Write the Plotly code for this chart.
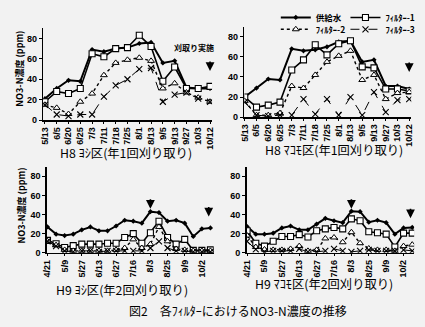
import plotly.graph_objects as go

W, H = 425, 327

# ---------------- data ----------------
h8_labels = ["5/13", "6/5", "6/20", "6/25", "7/3", "7/11", "7/18", "7/25",
             "8/1", "8/13", "9/5", "9/13", "9/27", "10/3", "10/12"]
h9_labels = ["4/21", "5/9", "5/27", "6/13", "6/27", "7/16", "8/3", "8/25", "9/9", "10/2"]

series_names = ["供給水", "ﾌｨﾙﾀｰ-1", "ﾌｨﾙﾀｰ-2", "ﾌｨﾙﾀｰ-3"]

h8_yoshi_supply = [21, 31, 39, 38, 69, 67, 70, 71, 75, 76, 56, 58, 32, 31, 31]
h8_yoshi_f1 = [18, 28, 26, 31, 65, 62, 70, 71, 83, 72, 38, 52, 31, 31, 33]
h8_yoshi_f2 = [15, 12, 6, 18, 26, 44, 56, 59, 61, 58, 31, 36, 27, 22, 18]
h8_yoshi_f3 = [15, 5.5, 4, 5.5, 5.5, 23, 34, 40, 50, 51, 18, 25, 27, 21, 18]

h8_makomo_supply = [20, 29, 38, 37, 68, 66, 67, 70, 75, 76, 55, 57, 31, 31, 28]
h8_makomo_f1 = [20, 10, 12, 15, 47, 57, 72, 62, 73, 76, 50, 49, 28, 28, 26]
h8_makomo_f2 = [16, 2, 2, 4, 31, 29, 42, 55, 61, 66, 37, 42, 18, 24, 25]
h8_makomo_f3 = [15, 2, 1, 2, 2, 18, 3, 18, 2, 20, 2, 25, 5, 17, 18]

h9_yoshi_supply = [27, 19.5, 18, 19.5, 24, 27, 23, 23, 28, 34, 33, 31, 43, 42, 33, 34, 31, 17, 25, 26]
h9_yoshi_f1 = [13, 9.5, 5.5, 7.5, 9, 9, 9, 10, 10, 16, 20, 10, 21, 33, 16, 9, 14, 2.5, 2.5, 3]
h9_yoshi_f2 = [12, 8, 3, 2, 2, 2, 2, 2, 3, 5, 14, 5, 9, 27, 12, 4, 3, 2, 2, 2]
h9_yoshi_f3 = [12, 7, 2, 1, 2, 2, 1, 2, 2, 2, 2, 2, 5, 12, 5, 2, 2, 1, 1, 1]

h9_makomo_supply = [27.5, 19.5, 19.5, 20.5, 26, 28, 24, 24, 30, 36, 33.5, 31.5, 43.5, 43, 32, 34, 31.5, 19.5, 26, 26.5]
h9_makomo_f1 = [23, 10, 7, 12, 17, 17, 19, 16.5, 23, 25, 26.5, 25, 35.5, 33.5, 22, 21, 19.5, 6, 20.5, 20.5]
h9_makomo_f2 = [18, 6, 3.5, 3, 3, 4, 7, 2, 3, 15, 16, 11, 21.5, 10, 4.5, 3, 3, 2, 7, 8.5]
h9_makomo_f3 = [12, 3.5, 1, 2, 2, 2, 4, 1, 1, 2, 4, 2, 1, 2, 3, 2, 2, 2, 3, 2]

y_ticks = [0, 20, 40, 60, 80]

titles = ["H8 ﾖｼ区(年1回刈り取り)", "H8 ﾏｺﾓ区(年1回刈り取り)",
          "H9 ﾖｼ区(年2回刈り取り)", "H9 ﾏｺﾓ区(年2回刈り取り)"]
y_title = "NO3-N濃度 (ppm)"
caption = "図2　各ﾌｨﾙﾀｰにおけるNO3-N濃度の推移"
cut_note = "刈取り実施"

# ---------------- styling ----------------
BG = "#f2f2f2"
JP = "Noto Sans CJK JP"
NUM = "Liberation Sans Narrow, Liberation Sans, Arial"

styles = [
    dict(line=dict(color="black", width=2), marker=dict(symbol="diamond", size=4, color="black")),
    dict(line=dict(color="black", width=1.6),
         marker=dict(symbol="square", size=6, color="white", line=dict(color="black", width=1.1))),
    dict(line=dict(color="black", width=1.4, dash="dot"),
         marker=dict(symbol="triangle-up", size=6, color="white", line=dict(color="black", width=1))),
    dict(line=dict(color="black", width=1, dash="dash"),
         marker=dict(symbol="x-thin-open", size=6, color="black", line=dict(color="black", width=1.1))),
]
legend_ids = ["legend", "legend2", "legend3", "legend4"]


def px_x(p):
    return p / W


def px_y(p):
    return 1 - p / H


panels = [
    dict(ax="x", ay="y", dx=(39, 211), dy=(28.6, 122), xr=[-0.14, 14.17],
         data=[h8_yoshi_supply, h8_yoshi_f1, h8_yoshi_f2, h8_yoshi_f3], kind="h8"),
    dict(ax="x2", ay="y2", dx=(244, 414), dy=(27.1, 119), xr=[-0.03, 14.17],
         data=[h8_makomo_supply, h8_makomo_f1, h8_makomo_f2, h8_makomo_f3], kind="h8"),
    dict(ax="x3", ay="y3", dx=(42.7, 212.7), dy=(169.3, 256.7), xr=[-0.07, 19.38],
         data=[h9_yoshi_supply, h9_yoshi_f1, h9_yoshi_f2, h9_yoshi_f3], kind="h9"),
    dict(ax="x4", ay="y4", dx=(246.3, 417), dy=(169.3, 256.7), xr=[-0.05, 19.22],
         data=[h9_makomo_supply, h9_makomo_f1, h9_makomo_f2, h9_makomo_f3], kind="h9"),
]

fig = go.Figure()

for pi, p in enumerate(panels):
    for si, ys in enumerate(p["data"]):
        xs = list(range(len(ys)))
        fig.add_trace(go.Scatter(
            x=xs, y=ys, mode="lines+markers", name=series_names[si],
            xaxis=p["ax"], yaxis=p["ay"],
            line=styles[si]["line"], marker=styles[si]["marker"],
            showlegend=(pi == 1),
            legend=legend_ids[si],
            hoverinfo="skip",
        ))

layout_axes = {}
for pi, p in enumerate(panels):
    xkey = "xaxis" if pi == 0 else f"xaxis{pi+1}"
    ykey = "yaxis" if pi == 0 else f"yaxis{pi+1}"
    if p["kind"] == "h8":
        tv = list(range(len(h8_labels)))
        tt = h8_labels
    else:
        tv = list(range(0, 2 * len(h9_labels), 2))
        tt = h9_labels
    layout_axes[xkey] = dict(
        domain=[px_x(p["dx"][0]), px_x(p["dx"][1])],
        range=p["xr"], anchor=p["ay"],
        showline=True, linecolor="black", linewidth=1.5,
        showgrid=False, zeroline=False,
        tickmode="array", tickvals=tv, ticktext=tt, tickangle=-90,
        ticks="outside", ticklen=2, tickcolor="black",
        tickfont=dict(family=NUM, size=9, color="black", weight="bold"),
        fixedrange=True,
    )
    layout_axes[ykey] = dict(
        domain=[px_y(p["dy"][1]), px_y(p["dy"][0])],
        range=[0, 90], anchor=p["ax"],
        showline=True, linecolor="black", linewidth=1.5,
        showgrid=False, zeroline=False,
        tickmode="array", tickvals=y_ticks, ticks="outside", ticklen=3, tickcolor="black",
        tickfont=dict(family=NUM, size=9, color="black", weight="bold"),
        fixedrange=True,
    )

annotations = []
# panel titles
title_pos = [(123.5, 155), (335, 152), (119, 295), (325.5, 288.5)]
for t, (cx, cy) in zip(titles, title_pos):
    annotations.append(dict(text=t, x=px_x(cx), y=px_y(cy), xref="paper", yref="paper",
                            showarrow=False, xanchor="center", yanchor="middle",
                            font=dict(family=JP, size=12.3, color="black")))
# caption
annotations.append(dict(text=caption, x=px_x(237), y=px_y(315), xref="paper", yref="paper",
                        showarrow=False, xanchor="center", yanchor="middle",
                        font=dict(family=JP, size=12, color="black")))
# y-axis titles
for cx, cy in [(15, 70), (17, 209)]:
    annotations.append(dict(text=y_title, x=px_x(cx), y=px_y(cy), xref="paper", yref="paper",
                            showarrow=False, textangle=-90, xanchor="center", yanchor="middle",
                            font=dict(family=JP, size=9, color="black", weight="bold")))
# cut note
annotations.append(dict(text=cut_note, x=px_x(193), y=px_y(48.7), xref="paper", yref="paper",
                        showarrow=False, xanchor="center", yanchor="middle",
                        font=dict(family=JP, size=8, color="black", weight="bold")))
# arrows (harvest times)
arrow_marks = [("x", "y", 14, 48), ("x2", "y2", 14, 45),
               ("x3", "y3", 12, 46), ("x3", "y3", 18.8, 38),
               ("x4", "y4", 12, 46), ("x4", "y4", 18.8, 36)]
for xr, yr, xv, yv in arrow_marks:
    annotations.append(dict(text="", x=xv, y=yv, xref=xr, yref=yr, showarrow=True,
                            ax=0, ay=-11, arrowhead=2, arrowsize=1.1, arrowwidth=1.6,
                            arrowcolor="black"))

legend_common = dict(orientation="h", xanchor="left", yanchor="top",
                     bgcolor="rgba(0,0,0,0)",
                     font=dict(family=JP, size=8.5, color="black", weight="bold"),
                     itemclick=False, itemdoubleclick=False, tracegroupgap=0, borderwidth=0)
legend_pos = [(276, 3), (347, 3), (276, 15), (347, 15)]
legend_layout = {}
for lid, (lx, ly) in zip(legend_ids, legend_pos):
    legend_layout[lid] = dict(x=px_x(lx), y=px_y(ly), **legend_common)

fig.update_layout(
    width=W, height=H,
    margin=dict(l=0, r=0, t=0, b=0),
    paper_bgcolor=BG, plot_bgcolor=BG,
    annotations=annotations,
    **legend_layout,
    **layout_axes,
)

fig.write_html("out.html", config=dict(displayModeBar=False, staticPlot=True))
